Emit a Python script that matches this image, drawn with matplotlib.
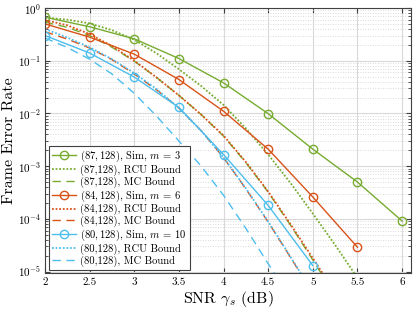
import numpy as np
import matplotlib
matplotlib.use("Agg")
import matplotlib.pyplot as plt
from matplotlib.ticker import LogLocator, FixedLocator, NullFormatter

plt.rcParams['font.family'] = ['cmr10', 'DejaVu Serif']
plt.rcParams['mathtext.fontset'] = 'cm'
plt.rcParams['axes.formatter.use_mathtext'] = True

# ---- data ----
snr_sim = [2.0, 2.5, 3.0, 3.5, 4.0, 4.5, 5.0, 5.5, 6.0]
fer_sim_87 = [0.67, 0.44, 0.26, 0.11, 0.038, 0.0099, 0.0021, 5.0e-4, 9.1e-5]
fer_sim_84 = [0.50, 0.28, 0.133, 0.044, 0.011, 2.1e-3, 2.6e-4, 2.9e-5]
fer_sim_80 = [0.30, 0.14, 0.049, 0.013, 1.66e-3, 1.8e-4, 1.3e-5]

snr_bound = [2.0, 2.25, 2.5, 2.75, 3.0, 3.25, 3.5, 3.75, 4.0, 4.25, 4.5, 4.75, 5.0, 5.25, 5.5]
rcu_87 = [0.66, 0.60, 0.51, 0.38, 0.25, 0.138, 0.069, 0.033, 0.0145, 0.0052, 0.00166, 4.8e-4, 1.26e-4, 3.2e-5, 7.6e-6]
mc_87 = [0.54, 0.43, 0.30, 0.18, 0.098, 0.048, 0.022, 0.0095, 0.0037, 0.00117, 3.2e-4, 7.6e-5, 1.66e-5, 3.5e-6]
rcu_84 = [0.59, 0.47, 0.32, 0.19, 0.10, 0.048, 0.022, 0.0095, 0.0038, 0.0012, 3.3e-4, 7.9e-5, 1.8e-5, 4.0e-6]
mc_84 = [0.355, 0.257, 0.174, 0.105, 0.056, 0.028, 0.0126, 0.0047, 0.00145, 3.7e-4, 8.7e-5, 1.86e-5, 3.9e-6]
rcu_80 = [0.40, 0.275, 0.18, 0.107, 0.058, 0.029, 0.0126, 0.0047, 0.00145, 3.8e-4, 8.9e-5, 1.9e-5, 4.0e-6]
mc_80 = [0.27, 0.178, 0.107, 0.056, 0.024, 0.0089, 0.0030, 0.0010, 2.8e-4, 6.6e-5, 1.41e-5, 3.2e-6]

labels = [
    r'$(87,128)$, Sim, $m$ = 3', '(87,128), RCU Bound', '(87,128), MC Bound',
    r'$(84,128)$, Sim, $m$ = 6', '(84,128), RCU Bound', '(84,128), MC Bound',
    r'$(80,128)$, Sim, $m$ = 10', '(80,128), RCU Bound', '(80,128), MC Bound',
]
xticks = [2, 2.5, 3, 3.5, 4, 4.5, 5, 5.5, 6]

green = '#77AC30'
orange = '#D95319'
blue = '#4DBEEE'

fig = plt.figure(figsize=(4.15, 3.11), dpi=100)
ax = fig.add_axes([0.1084, 0.1206, 0.882, 0.8537])

dot = (0, (1, 1))
dash = (0, (6, 4))
lw = 1.0
ms = 6

def nb(a):
    return snr_bound[:len(a)]

ax.plot(snr_sim[:len(fer_sim_87)], fer_sim_87, '-o', color=green, lw=lw, ms=ms, mfc='none', mew=1.0, label=labels[0])
ax.plot(nb(rcu_87), rcu_87, linestyle=dot, color=green, lw=1.3, label=labels[1])
ax.plot(nb(mc_87), mc_87, linestyle=dash, color=green, lw=lw, label=labels[2])
ax.plot(snr_sim[:len(fer_sim_84)], fer_sim_84, '-o', color=orange, lw=lw, ms=ms, mfc='none', mew=1.0, label=labels[3])
ax.plot(nb(rcu_84), rcu_84, linestyle=dot, color=orange, lw=1.3, label=labels[4])
ax.plot(nb(mc_84), mc_84, linestyle=dash, color=orange, lw=lw, label=labels[5])
ax.plot(snr_sim[:len(fer_sim_80)], fer_sim_80, '-o', color=blue, lw=lw, ms=ms, mfc='none', mew=1.0, label=labels[6])
ax.plot(nb(rcu_80), rcu_80, linestyle=dot, color=blue, lw=1.3, label=labels[7])
ax.plot(nb(mc_80), mc_80, linestyle=dash, color=blue, lw=lw, label=labels[8])

ax.set_yscale('log')
ax.set_xlim(2, 6.1)
ax.set_ylim(0.92e-5, 1)
ax.set_xticks(xticks)
ax.set_xticklabels([f'{t:g}' for t in xticks])
ax.yaxis.set_major_locator(FixedLocator([1e-5, 1e-4, 1e-3, 1e-2, 1e-1, 1]))
ax.yaxis.set_minor_locator(LogLocator(base=10, subs=np.arange(2, 10), numticks=20))
ax.yaxis.set_minor_formatter(NullFormatter())

ax.grid(True, which='major', color='#d9d9d9', lw=0.8)
ax.grid(True, which='minor', axis='y', color='#cfcfcf', lw=0.6, linestyle=(0, (1, 2)))
ax.set_axisbelow(True)

ax.tick_params(which='both', direction='in', top=True, right=True, labelsize=8, color='#404040', pad=3)
ax.tick_params(which='major', length=3.5)
ax.tick_params(which='minor', length=2)
for s in ax.spines.values():
    s.set_color('#404040')
    s.set_linewidth(0.8)

ax.set_xlabel(r'SNR $\gamma_s$ (dB)', fontsize=11.5, labelpad=1)
ax.set_ylabel('Frame Error Rate', fontsize=11.5, labelpad=1)

leg = ax.legend(loc='lower left', fontsize=7.6, frameon=True, fancybox=False,
                edgecolor='#404040', framealpha=1, handlelength=2.3,
                handletextpad=0.4, labelspacing=0.05, borderpad=0.3,
                borderaxespad=0.35)
leg.get_frame().set_linewidth(0.8)

fig.savefig('out.png', dpi=100)
